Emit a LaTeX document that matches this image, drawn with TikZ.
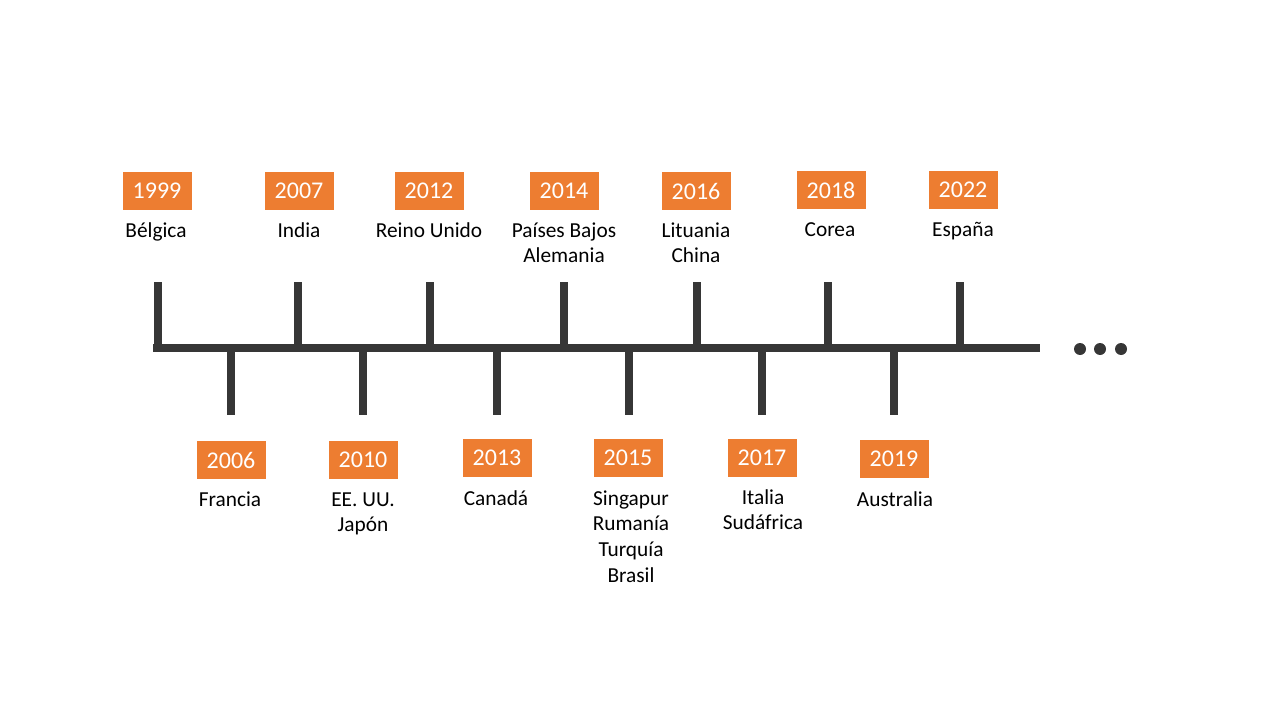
\documentclass[tikz,border=0pt]{standalone}
\usepackage{fontspec}
\setmainfont{Carlito}
\definecolor{tlorange}{HTML}{ED7D31}
\definecolor{tlgray}{HTML}{363636}
\begin{document}
\begin{tikzpicture}[x=0.75pt,y=-0.75pt,
  yearbox/.style={fill=tlorange,text=white,minimum width=51.75pt,minimum height=28.5pt,inner sep=0pt,font=\fontsize{18}{21.6}\selectfont},
  place/.style={anchor=north,inner sep=0pt,align=center,font=\fontsize{16}{19.4}\selectfont,text=black},
  axis/.style={draw=tlgray,line width=6pt},
  tick/.style={draw=tlgray,line width=6pt},
  dot/.style={circle,fill=tlgray,inner sep=0pt,minimum size=9pt}]
\useasboundingbox (0,0) rectangle (1280,720);
% main line
\coordinate (L) at (153,348);
\coordinate (R) at (1040,348);
\draw[axis] (L) -- (R);
% upper ticks
\foreach \n/\x in {a/157.5,b/298,c/429.5,d/563.5,e/696.5,f/828,g/960}{
  \coordinate (t\n) at (\x,282);
  \coordinate (b\n) at (\x,348);
  \draw[tick] (t\n) -- (b\n);
}
% lower ticks
\foreach \n/\x in {h/231,i/363,j/497,k/629,l/762,m/894}{
  \coordinate (t\n) at (\x,348);
  \coordinate (b\n) at (\x,415);
  \draw[tick] (t\n) -- (b\n);
}
% dots
\node[dot] (d1) at (1080,349) {};
\node[dot] (d2) at (1100,349) {};
\node[dot] (d3) at (1121,349) {};
% upper years
\node[yearbox] (y1999) at (157,191) {1999};
\node[yearbox] (y2007) at (299,191) {2007};
\node[yearbox] (y2012) at (429,191) {2012};
\node[yearbox] (y2014) at (564,191) {2014};
\node[yearbox] (y2016) at (696,191) {2016};
\node[yearbox] (y2018) at (831,190) {2018};
\node[yearbox] (y2022) at (963,190) {2022};
% lower years
\node[yearbox] (y2006) at (231,460) {2006};
\node[yearbox] (y2010) at (363,460) {2010};
\node[yearbox] (y2013) at (497,458) {2013};
\node[yearbox] (y2015) at (628,458) {2015};
\node[yearbox] (y2017) at (762,458) {2017};
\node[yearbox] (y2019) at (894,459) {2019};
% upper labels
\node[place] (p1999) at (156,219) {\vphantom{É}Bélgica};
\node[place] (p2007) at (299,219) {\vphantom{É}India};
\node[place] (p2012) at (429,219) {\vphantom{É}Reino Unido};
\node[place] (p2014) at (564,219) {\vphantom{É}Países Bajos\\Alemania};
\node[place] (p2016) at (696,219) {\vphantom{É}Lituania\\China};
\node[place] (p2018) at (830,218) {\vphantom{É}Corea};
\node[place] (p2022) at (963,218) {\vphantom{É}España};
% lower labels
\node[place] (p2006) at (230,488) {\vphantom{É}Francia};
\node[place] (p2010) at (363,488) {\vphantom{É}EE. UU.\\Japón};
\node[place] (p2013) at (496,487) {\vphantom{É}Canadá};
\node[place] (p2015) at (631,487) {\vphantom{É}Singapur\\Rumanía\\Turquía\\Brasil};
\node[place] (p2017) at (763,486) {\vphantom{É}Italia\\Sudáfrica};
\node[place] (p2019) at (895,488) {\vphantom{É}Australia};
\end{tikzpicture}
\end{document}
